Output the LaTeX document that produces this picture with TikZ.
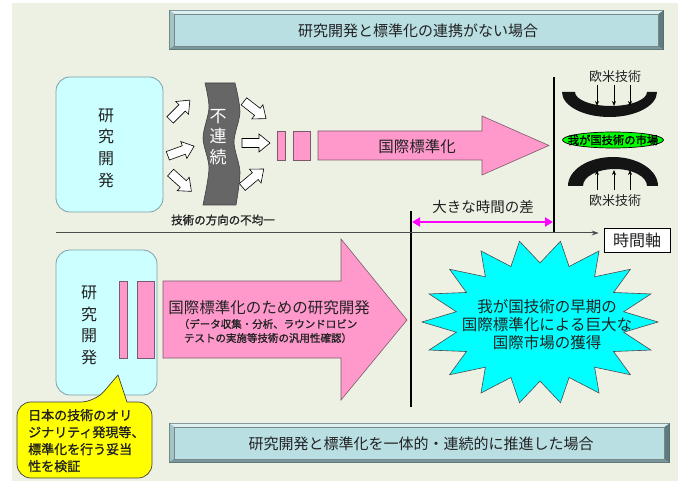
\documentclass[tikz,border=0pt]{standalone}
\usepackage{fontspec}
\newfontfamily\jp{Noto Sans CJK JP}
\newfontfamily\jpb{Noto Sans CJK JP}[FakeBold=1.2]
\usetikzlibrary{arrows.meta,shapes.geometric}
\definecolor{bgc}{HTML}{EDF1E4}
\definecolor{face}{HTML}{B9DFE3}
\definecolor{bevT}{HTML}{DCF0F2}
\definecolor{bevL}{HTML}{A3C4C7}
\definecolor{bevR}{HTML}{5E7C7F}
\definecolor{bevB}{HTML}{7A989B}
\definecolor{bevO}{HTML}{56696B}
\definecolor{lcyan}{HTML}{CCFFFF}
\definecolor{lcyand}{HTML}{7E9FA8}
\definecolor{pinkf}{HTML}{FF99CC}
\definecolor{pinkd}{HTML}{7A5A6A}
\definecolor{txt}{HTML}{222222}
\definecolor{burst}{HTML}{00FFFF}
\definecolor{yel}{HTML}{FFFF00}
\definecolor{grn}{HTML}{00FF00}
\definecolor{mag}{HTML}{FF00FF}
\newcommand{\bevbox}[4]{%
 \fill[bevO] (#1,#2) rectangle (#3,#4);
 \fill[bevT] ({#1+0.7},{#2+0.7}) -- ({#3-0.7},{#2+0.7}) -- ({#3-5.5},{#2+4}) -- ({#1+5},{#2+4}) -- cycle;
 \fill[bevL] ({#1+0.7},{#2+0.7}) -- ({#1+5},{#2+4}) -- ({#1+5},{#4-4}) -- ({#1+0.7},{#4-0.7}) -- cycle;
 \fill[bevR] ({#3-0.7},{#2+0.7}) -- ({#3-5.5},{#2+4}) -- ({#3-5.5},{#4-4}) -- ({#3-0.7},{#4-0.7}) -- cycle;
 \fill[bevB] ({#1+0.7},{#4-0.7}) -- ({#1+5},{#4-4}) -- ({#3-5.5},{#4-4}) -- ({#3-0.7},{#4-0.7}) -- cycle;
 \fill[face] ({#1+5},{#2+4}) rectangle ({#3-5.5},{#4-4});
 \draw[bevO!80, line width=0.4pt] ({#1+5},{#2+4}) rectangle ({#3-5.5},{#4-4});
}
\tikzset{
  hollow/.pic={\draw[black, fill=white, line width=0.6pt, line join=miter]
     (-14,-4.5) -- (3,-4.5) -- (3,-9) -- (14,0) -- (3,9) -- (3,4.5) -- (-14,4.5) -- cycle;},
  titletext/.style={font=\jp\fontsize{15}{18}\selectfont, text=txt, inner sep=0},
  vtext/.style={font=\jp\fontsize{16}{21.7}\selectfont, text=txt, align=center, inner sep=0},
  rdbox/.style={draw=lcyand, line width=0.8pt, fill=lcyan, rounded corners=14pt},
  pinkbar/.style={draw=pinkd, line width=0.6pt, fill=pinkf},
  vline/.style={black, line width=1.8pt},
  smalltext/.style={font=\jpb\fontsize{10.5}{14}\selectfont, text=txt, inner sep=0},
  midtext/.style={font=\jp\fontsize{15.5}{18}\selectfont, text=txt, inner sep=0},
  eutext/.style={font=\jp\fontsize{13}{15}\selectfont, text=txt, inner sep=0},
  tinyarrow/.style={black, line width=0.7pt, -{Stealth[length=5pt,width=4pt]}},
}
\begin{document}
\begin{tikzpicture}[x=1pt,y=-1pt]
\useasboundingbox (0,0) rectangle (678,481);
\fill[white] (0,0) rectangle (678,481);
\fill[bgc] (12,3) rectangle (678,481);

% top title
\bevbox{169}{10}{664}{50}
\node[titletext] (title1) at (418,31) {研究開発と標準化の連携がない場合};

% top research box
\draw[rdbox] (56,77) rectangle (163,212);
\node[vtext] (rd1) at (106,148) {研\\究\\開\\発};

% hollow arrows
\pic[rotate=45] (ha1) at (180,110) {hollow};
\pic[rotate=20] (ha2) at (181,151) {hollow};
\pic[rotate=-42] (ha3) at (181,182) {hollow};
\pic[rotate=-38] (ha4) at (255,110) {hollow};
\pic[rotate=0] (ha5) at (256,143) {hollow};
\pic[rotate=40] (ha6) at (253,178) {hollow};

% wavy gray band
\draw[fill=black!60, draw=black!75, line width=0.6pt]
  plot[smooth] coordinates {(205,83)(209,108)(203,138)(209,168)(203,205)}
  -- plot[smooth] coordinates {(236,205)(240,172)(234,142)(240,112)(235,83)} -- cycle;
\node[font=\jp\fontsize{17}{20.5}\selectfont, text=white, align=center, inner sep=0] (fu) at (218,137) {不\\連\\続};
\node[smalltext, font=\jpb\fontsize{11.5}{14}\selectfont] (hoko) at (223,220) {技術の方向の不均一};

% pink bars and arrow (top)
\draw[pinkbar] (277,131) rectangle (285,160);
\draw[pinkbar] (293,131) rectangle (310,160);
\draw[pinkbar, line join=miter] (318,131) -- (482,131) -- (482,116) -- (549,145.5) -- (482,175) -- (482,160) -- (318,160) -- cycle;
\node[midtext] (kokusai) at (417,147) {国際標準化};

% vertical lines
\coordinate (v1t) at (554,77);
\coordinate (v1b) at (554,233);
\draw[vline] (v1t) -- (v1b);
\coordinate (v2t) at (411,211);
\coordinate (v2b) at (411,407);
\draw[vline] (v2t) -- (v2b);

% right arcs
\node[eutext] (eu1) at (615,77) {欧米技術};
\fill[black!92] (562,92) arc[start angle=180,end angle=360,x radius=47.5pt,y radius=25pt]
   -- (647,92) arc[start angle=0,end angle=-180,x radius=36pt,y radius=14pt] -- cycle;
\foreach \xx [count=\i] in {597,614,630} {
  \coordinate (da\i) at (\xx,85);
  \coordinate (db\i) at (\xx,106);
  \draw[tinyarrow] (da\i) -- (db\i);
}
\node[ellipse, draw=black, line width=0.7pt, fill=grn, minimum width=101pt, minimum height=16pt, inner sep=0] (mkt) at (613,140) {};
\node[font=\jpb\fontsize{11.3}{12}\selectfont, text=black, inner sep=0] (mkttext) at (613,140) {我が国技術の市場};
\fill[black!92] (568,186) arc[start angle=180,end angle=0,x radius=45pt,y radius=29pt]
   -- (647,186) arc[start angle=0,end angle=180,x radius=32pt,y radius=17pt] -- cycle;
\foreach \xx [count=\i] in {597,614,630} {
  \coordinate (ua\i) at (\xx,190);
  \coordinate (ub\i) at (\xx,170);
  \draw[tinyarrow] (ua\i) -- (ub\i);
}
\node[eutext] (eu2) at (615,201) {欧米技術};

% time gap
\node[font=\jp\fontsize{14.5}{17}\selectfont, text=txt, inner sep=0] (gap) at (483,207) {大きな時間の差};
\coordinate (gl) at (412,222);
\coordinate (gr) at (553,222);
\draw[mag, line width=2.6pt, {Triangle[length=8pt,width=9pt]}-{Triangle[length=8pt,width=9pt]}] (gl) -- (gr);

% time axis
\node[draw=black, line width=0.7pt, fill=white, minimum width=66pt, minimum height=24pt, inner sep=0,
      font=\jp\fontsize{16}{18}\selectfont, text=txt] (tax) at (637,240) {時間軸};
\coordinate (axs) at (56,233);
\draw[black!70, line width=1pt, -{Stealth[length=7pt,width=5pt]}, shorten >=5pt] (axs) -- (axs -| tax.west);

% lower research box
\draw[rdbox] (56,250) rectangle (157,395);
\node[vtext] (rd2) at (89,325.5) {研\\究\\開\\発};
\draw[pinkbar] (119,281) rectangle (127,358);
\draw[pinkbar] (137,281) rectangle (154,358);
\draw[pinkbar, line join=miter] (163,281) -- (341,281) -- (341,239) -- (407,320) -- (341,400) -- (341,358) -- (163,358) -- cycle;
\node[midtext] (rdstd) at (269,308) {国際標準化のための研究開発};
\node[smalltext, align=center] (paren) at (268,331) {（データ収集・分析、ラウンドロビン\\テストの実施等技術の汎用性確認）};

% starburst
\draw[fill=burst, draw=black!70, line width=0.6pt, line join=miter]
  plot[samples at={0,1,...,35}] ({540+118*(1-0.28*mod(\x,2))*cos(180+\x*10)}, {322+82*(1-0.28*mod(\x,2))*sin(180+\x*10)}) -- cycle;
\node[font=\jp\fontsize{15.5}{18}\selectfont, text=txt, align=center, inner sep=0] (gain) at (547,325) {我が国技術の早期の\\国際標準化による巨大な\\国際市場の獲得};

% callout
\draw[fill=yel, draw=black!75, line width=0.7pt]
  (127,402) [rounded corners=14pt] -- (152,402) -- (152,478) -- (17,478) -- (17,402) -- (95,402) [sharp corners] -- (118,375) -- cycle;
\node[font=\jpb\fontsize{13}{17}\selectfont, text=txt, align=left, anchor=north west, inner sep=0] (orig) at (28,409)
  {日本の技術のオリ\\ジナリティ発現等、\\標準化を行う妥当\\性を検証};

% bottom title
\bevbox{169}{423}{670}{463}
\node[titletext] (title2) at (421,444) {研究開発と標準化を一体的・連続的に推進した場合};
\end{tikzpicture}
\end{document}
